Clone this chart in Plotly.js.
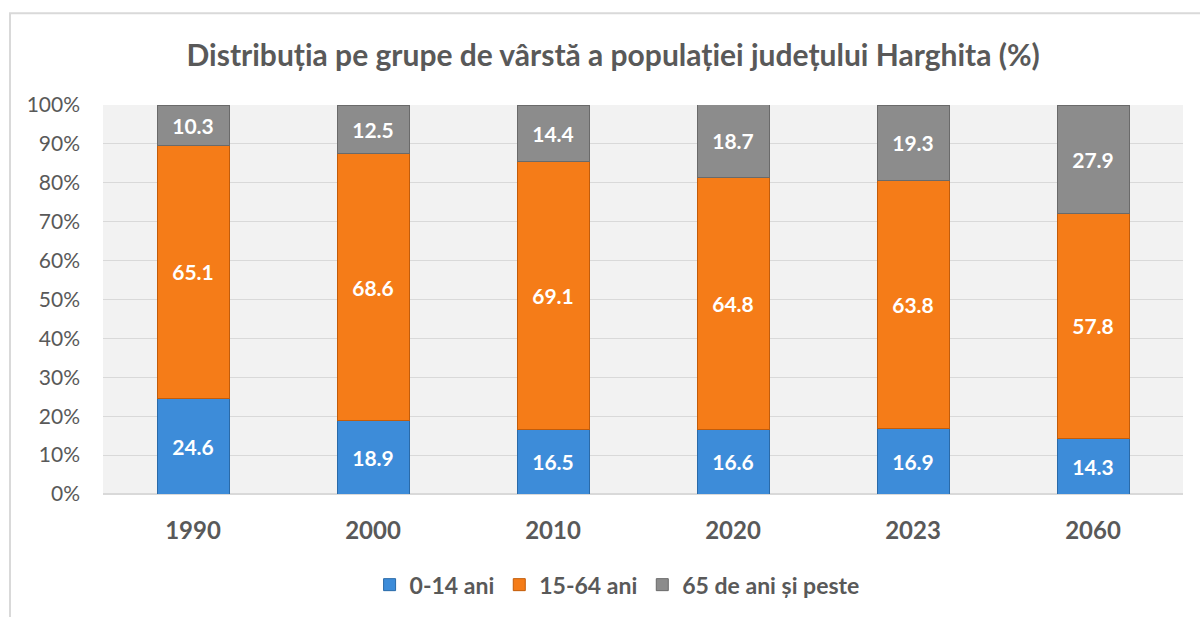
<!DOCTYPE html>
<html>
<head>
<meta charset="utf-8">
<script src="https://cdn.plot.ly/plotly-3.0.1.min.js"></script>
<style>html,body{margin:0;padding:0;background:#fff;}#chart{width:1200px;height:617px;}</style>
</head>
<body>
<div id="chart"></div>
<script>
const categories = ['1990', '2000', '2010', '2020', '2023', '2060'];
const seriesNames = ['0-14 ani', '15-64 ani', '65 de ani și peste'];
const young = [24.6, 18.9, 16.5, 16.6, 16.9, 14.3];
const adult = [65.1, 68.6, 69.1, 64.8, 63.8, 57.8];
const old = [10.3, 12.5, 14.4, 18.7, 19.3, 27.9];
const yTicks = [0, 10, 20, 30, 40, 50, 60, 70, 80, 90, 100];
const yTickLabels = yTicks.map(v => v + '%');

const FONT = 'Lato, sans-serif';
const colors = ['#3d8cd9', '#f57c18', '#8c8c8c'];
const lineColors = ['#2a6aa8', '#c25c0a', '#6a6a6a'];
const dataSets = [young, adult, old];

const traces = dataSets.map((vals, i) => ({
  type: 'bar',
  name: seriesNames[i],
  x: categories,
  y: vals,
  text: vals.map(v => v.toFixed(1)),
  textposition: 'inside',
  insidetextanchor: 'middle',
  textangle: 0,
  textfont: {family: FONT, size: 21, color: '#ffffff', weight: 'bold'},
  constraintext: 'none',
  marker: {color: colors[i], line: {color: lineColors[i], width: 1}},
  width: 0.4,
  hoverinfo: 'skip'
}));

const layout = {
  width: 1200, height: 617,
  margin: {l: 103, r: 17, t: 105, b: 122},
  paper_bgcolor: '#ffffff',
  plot_bgcolor: '#f2f2f2',
  barmode: 'stack',
  title: {
    text: '<b>Distribuția pe grupe de vârstă a populației județului Harghita (%)</b>',
    font: {family: FONT, size: 30, color: '#595959'},
    x: 0.511, xanchor: 'center', y: 0.91, yanchor: 'middle'
  },
  xaxis: {
    type: 'category',
    tickfont: {family: FONT, size: 24, color: '#595959', weight: 'bold'},
    showgrid: false, zeroline: false, showline: false,
    ticks: '', ticklabelstandoff: 20
  },
  yaxis: {
    range: [0, 100],
    tickvals: yTicks,
    ticktext: yTickLabels,
    tickfont: {family: FONT, size: 21, color: '#595959'},
    showgrid: true, gridcolor: '#d9d9d9', gridwidth: 1,
    zeroline: true, zerolinecolor: '#d9d9d9', zerolinewidth: 2,
    showline: false, ticks: '', ticklabelstandoff: 22
  },
  showlegend: true,
  legend: {
    orientation: 'h',
    x: 0.476, xanchor: 'center',
    y: -0.23, yanchor: 'middle',
    font: {family: FONT, size: 23, color: '#595959', weight: 'bold'},
    traceorder: 'normal',
    itemwidth: 30
  },
  shapes: [{
    type: 'rect', xref: 'paper', yref: 'paper',
    x0: -0.0861, x1: 1.3, y0: -0.6, y1: 1.2359,
    line: {color: '#d9d9d9', width: 2},
    fillcolor: 'rgba(0,0,0,0)',
    layer: 'below'
  }]
};

Plotly.newPlot('chart', traces, layout, {displayModeBar: false, staticPlot: true});
</script>
</body>
</html>
